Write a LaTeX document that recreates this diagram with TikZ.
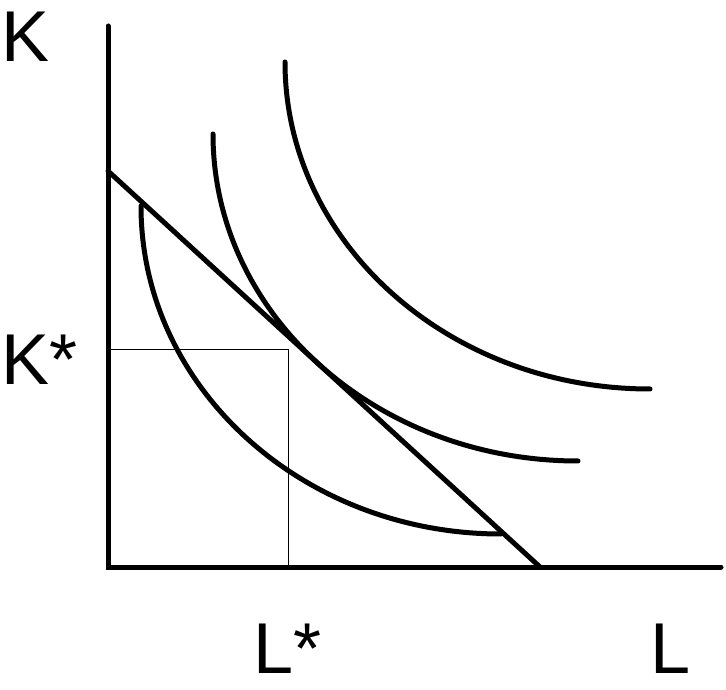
\documentclass[tikz,border=0pt]{standalone}
\usepackage{fontspec}
\setmainfont{Liberation Sans}
\usetikzlibrary{positioning}
\begin{document}
\begin{tikzpicture}[x=1pt,y=1pt,every node/.style={inner sep=0pt,anchor=base west,font=\fontsize{72}{86}\selectfont},thickline/.style={line width=5pt,line cap=round}]
\useasboundingbox (0,0) rectangle (726,689);
% axes and budget line
\coordinate (O) at (108,122);
\coordinate (ktop) at (108,663);
\coordinate (lend) at (721,122);
\coordinate (b0) at (108,518);
\coordinate (b1) at (540,122);
\coordinate (opt) at (288,339);
\draw[thickline] (ktop) -- (O) -- (lend);
\draw[thickline] (b0) -- (b1);
\draw[line width=1pt] (O |- opt) -- (opt) -- (opt |- O);
% isoquants
\coordinate (q1) at (141,483);
\coordinate (q2) at (213,555);
\coordinate (q3) at (285,627);
\draw[thickline] (q1) arc[start angle=180,end angle=270,x radius=360,y radius=328];
\draw[thickline] (q2) arc[start angle=180,end angle=270,x radius=365,y radius=327];
\draw[thickline] (q3) arc[start angle=180,end angle=270,x radius=365,y radius=327];
% labels
\node (klabel) at (1,627) {K};
\node (kstar) at (1,304) {K*};
\node (lstar) at (253,16) {L*};
\node (llabel) at (650,16) {L};
\end{tikzpicture}
\end{document}
